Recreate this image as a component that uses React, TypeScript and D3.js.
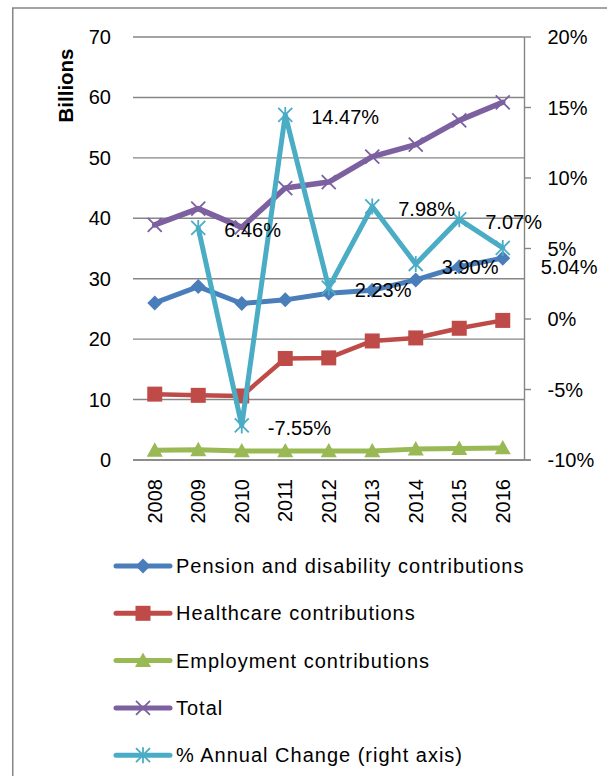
import React from 'react';
import * as d3 from 'd3';

const years = ['2008', '2009', '2010', '2011', '2012', '2013', '2014', '2015', '2016'];
const pension = [26.0, 28.7, 25.9, 26.5, 27.6, 28.1, 29.8, 32.0, 33.4];
const healthcare = [10.9, 10.7, 10.6, 16.8, 16.9, 19.7, 20.2, 21.8, 23.1];
const employment = [1.6, 1.7, 1.5, 1.5, 1.5, 1.5, 1.8, 1.9, 2.0];
const total = [38.9, 41.6, 38.5, 45.0, 46.0, 50.2, 52.2, 56.2, 59.2];
const pctChange: (number | null)[] = [null, 6.46, -7.55, 14.47, 2.23, 7.98, 3.9, 7.07, 5.04];
const leftTicks = [0, 10, 20, 30, 40, 50, 60, 70];
const rightTicks = [-10, -5, 0, 5, 10, 15, 20];
const legendLabels = [
  'Pension and disability contributions',
  'Healthcare contributions',
  'Employment contributions',
  'Total',
  '% Annual Change (right axis)',
];

const COLORS = ['#4A7EBB', '#BE4B48', '#98B954', '#7D60A0', '#4AACC5'];
const GRID = '#868686';
const FONT = '"Liberation Sans", Arial, sans-serif';

type MarkerKind = 'diamond' | 'square' | 'triangle' | 'x' | 'star';
const KINDS: MarkerKind[] = ['diamond', 'square', 'triangle', 'x', 'star'];

function Marker({ kind, x, y, color }: { kind: MarkerKind; x: number; y: number; color: string }) {
  if (kind === 'diamond') {
    const r = 7.5;
    return <path d={`M${x},${y - r}L${x + r},${y}L${x},${y + r}L${x - r},${y}Z`} fill={color} />;
  }
  if (kind === 'square') {
    const r = 7.5;
    return <rect x={x - r} y={y - r} width={2 * r} height={2 * r} fill={color} />;
  }
  if (kind === 'triangle') {
    const r = 8;
    return <path d={`M${x},${y - r}L${x + r},${y + r * 0.8}L${x - r},${y + r * 0.8}Z`} fill={color} />;
  }
  if (kind === 'x') {
    const r = 7;
    return (
      <path d={`M${x - r},${y - r}L${x + r},${y + r}M${x - r},${y + r}L${x + r},${y - r}`} stroke={color} strokeWidth={1.8} fill="none" />
    );
  }
  const r = 7;
  return (
    <path
      d={`M${x - r},${y - r}L${x + r},${y + r}M${x - r},${y + r}L${x + r},${y - r}M${x},${y - r - 1}L${x},${y + r + 1}`}
      stroke={color}
      strokeWidth={1.8}
      fill="none"
    />
  );
}

export default function App() {
  const W = 607;
  const H = 776;
  const plotLeft = 133;
  const plotRight = 524.5;
  const plotTop = 37;
  const plotBottom = 460;

  const x = d3.scaleBand<string>().domain(years).range([plotLeft, plotRight]).padding(0);
  const cx = (i: number) => (x(years[i]) as number) + x.bandwidth() / 2;
  const yL = d3.scaleLinear().domain([0, 70]).range([plotBottom, plotTop]);
  const yR = d3.scaleLinear().domain([-10, 20]).range([plotBottom, plotTop]);

  const leftSeries = [pension, healthcare, employment, total];
  const lineL = d3
    .line<number>()
    .x((_, i) => cx(i))
    .y((d) => yL(d));
  const pctPoints = pctChange
    .map((v, i) => ({ v, i }))
    .filter((p) => p.v !== null) as { v: number; i: number }[];
  const lineR = d3
    .line<{ v: number; i: number }>()
    .x((p) => cx(p.i))
    .y((p) => yR(p.v));

  const widths = [5, 4.5, 5, 5.5, 5];

  return (
    <svg width={W} height={H} style={{ position: 'absolute', left: 0, top: 0, background: '#fff' }} fontFamily={FONT}>
      <rect x={0} y={0} width={W} height={H} fill="#fff" />
      {/* chart frame */}
      <rect x={12.75} y={8} width={W + 20} height={H + 20} fill="none" stroke={GRID} strokeWidth={1.5} />

      {/* gridlines */}
      {leftTicks.map((t) => (
        <line key={'g' + t} x1={plotLeft} x2={plotRight} y1={yL(t)} y2={yL(t)} stroke={GRID} strokeWidth={1.4} />
      ))}
      {/* x axis line */}
      <line x1={plotLeft} x2={plotRight + 6} y1={plotBottom} y2={plotBottom} stroke={GRID} strokeWidth={1.6} />
      {/* right axis */}
      <line x1={plotRight} x2={plotRight} y1={plotTop} y2={plotBottom} stroke={GRID} strokeWidth={1.4} />
      {rightTicks.map((t) => (
        <line key={'rt' + t} x1={plotRight} x2={plotRight + 6.5} y1={yR(t)} y2={yR(t)} stroke={GRID} strokeWidth={1.4} />
      ))}

      {/* left tick labels */}
      {leftTicks.map((t) => (
        <text key={'lt' + t} x={111} y={yL(t)} dy="0.35em" textAnchor="end" fontSize={20} fill="#000">
          {t}
        </text>
      ))}
      {/* right tick labels */}
      {rightTicks.map((t) => (
        <text key={'rl' + t} x={547.5} y={yR(t)} dy="0.35em" textAnchor="start" fontSize={20} fill="#000">
          {t + '%'}
        </text>
      ))}
      {/* year labels */}
      {years.map((yr, i) => (
        <text
          key={'yr' + yr}
          transform={`translate(${cx(i)},479) rotate(-90)`}
          dy="0.35em"
          textAnchor="end"
          fontSize={20}
          fill="#000"
        >
          {yr}
        </text>
      ))}
      {/* axis title */}
      <text
        transform="translate(72.5,85.5) rotate(-90)"
        textAnchor="middle"
        fontSize={20.5}
        fontWeight="bold"
        fill="#000"
      >
        Billions
      </text>

      {/* left-axis series */}
      {leftSeries.map((s, k) => (
        <g key={'s' + k}>
          <path d={lineL(s) || ''} fill="none" stroke={COLORS[k]} strokeWidth={widths[k]} strokeLinejoin="round" strokeLinecap="round" />
          {s.map((v, i) => (
            <Marker key={i} kind={KINDS[k]} x={cx(i)} y={yL(v)} color={COLORS[k]} />
          ))}
        </g>
      ))}

      {/* right-axis series */}
      <path d={lineR(pctPoints) || ''} fill="none" stroke={COLORS[4]} strokeWidth={widths[4]} strokeLinejoin="round" strokeLinecap="round" />
      {pctPoints.map((p) => (
        <Marker key={'p' + p.i} kind="star" x={cx(p.i)} y={yR(p.v)} color={COLORS[4]} />
      ))}
      {pctPoints.map((p, j) => {
        const last = j === pctPoints.length - 1;
        return (
          <text
            key={'dl' + p.i}
            x={cx(p.i) + (last ? 38 : 26)}
            y={yR(p.v) + (last ? 19 : 2.5)}
            dy="0.35em"
            fontSize={20}
            fill="#000"
          >
            {p.v.toFixed(2) + '%'}
          </text>
        );
      })}

      {/* legend */}
      {legendLabels.map((lab, k) => {
        const ly = 566 + k * 47.3;
        return (
          <g key={'lg' + k}>
            <line x1={116} x2={170} y1={ly} y2={ly} stroke={COLORS[k]} strokeWidth={5} strokeLinecap="round" />
            <Marker kind={KINDS[k]} x={143} y={ly} color={COLORS[k]} />
            <text x={176} y={ly} dy="0.35em" fontSize={20} letterSpacing={1} fill="#000">
              {lab}
            </text>
          </g>
        );
      })}
    </svg>
  );
}
